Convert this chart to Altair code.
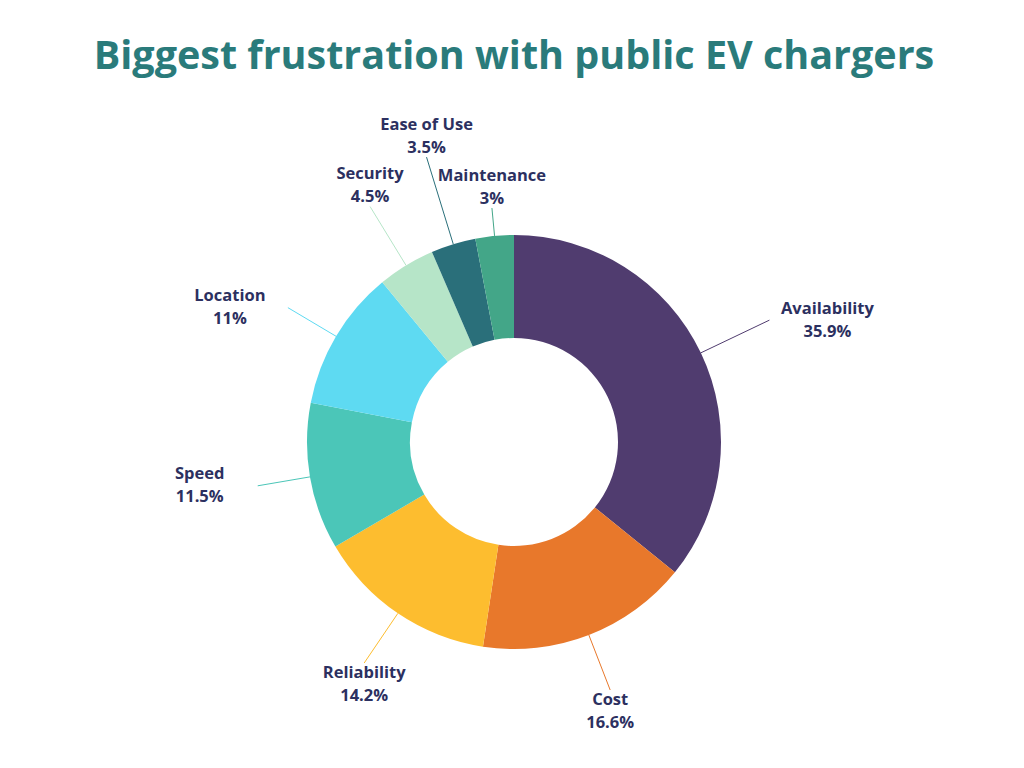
import altair as alt
import pandas as pd

# ---- data ----
categories = ["Availability", "Cost", "Reliability", "Speed", "Location",
              "Security", "Ease of Use", "Maintenance"]
values = [35.9, 16.6, 14.2, 11.5, 11.0, 4.5, 3.5, 3.0]
colors = ["#503c6f", "#e8782b", "#fdbd2f", "#4bc6b8", "#5edaf2",
          "#b6e5c8", "#2a6f7a", "#43a688"]
# leader-line length (label layout) per slice, px from centre
leader_len = [283, 266, 267, 260, 263, 276, 298, 235]

df = pd.DataFrame({
    "category": categories,
    "value": values,
    "order": list(range(len(categories))),
    "llen": leader_len,
    "lab": [f"{c}\n{v:g}%" for c, v in zip(categories, values)],
})

W, H = 1004, 636
CX, CY = W / 2, H / 2
R_OUT, R_IN = 207, 104
SIDE_DX, TB_DY = 58, 21
LINE_H = 23

color_scale = alt.Scale(domain=categories, range=colors)

base = alt.Chart(df)

arcs = base.mark_arc(outerRadius=R_OUT, innerRadius=R_IN).encode(
    theta=alt.Theta("value:Q", stack=True),
    color=alt.Color("category:N", scale=color_scale, legend=None),
    order=alt.Order("order:Q"),
)

geo = base.transform_joinaggregate(
    total="sum(value)"
).transform_window(
    cum="sum(value)", sort=[alt.SortField("order")], frame=[None, 0]
).transform_calculate(
    mid="(datum.cum - datum.value/2) / datum.total * 2 * PI"
).transform_calculate(
    sx="sin(datum.mid)", cy="cos(datum.mid)"
).transform_calculate(
    x1=f"{CX} + {R_OUT} * datum.sx",
    y1=f"{CY} - {R_OUT} * datum.cy",
    x2=f"{CX} + datum.llen * datum.sx",
    y2=f"{CY} - datum.llen * datum.cy",
    side="abs(datum.sx) > 0.8",
).transform_calculate(
    lx=f"datum.side ? datum.x2 + (datum.sx > 0 ? {SIDE_DX} : -{SIDE_DX}) : datum.x2",
    ly=f"datum.side ? datum.y2 : (datum.cy > 0 ? datum.y2 - {TB_DY} : datum.y2 + {TB_DY})",
)

lines = geo.mark_rule(strokeWidth=1).encode(
    x=alt.X("x1:Q", scale=None, axis=None),
    y=alt.Y("y1:Q", scale=None, axis=None),
    x2="x2:Q",
    y2="y2:Q",
    color=alt.Color("category:N", scale=color_scale, legend=None),
)

labels = geo.mark_text(
    lineBreak="\n", font="Open Sans", fontSize=16.5, fontWeight="bold",
    color="#2c3060", align="center", baseline="middle", lineHeight=LINE_H,
    dy=-LINE_H / 2,
).encode(
    x=alt.X("lx:Q", scale=None, axis=None),
    y=alt.Y("ly:Q", scale=None, axis=None),
    text="lab:N",
)

chart = alt.layer(arcs, lines, labels).properties(
    width=W,
    height=H,
    padding={"left": 4, "top": 116, "right": 0, "bottom": 0},
    autosize=alt.AutoSizeParams(type="none"),
    title=alt.TitleParams(
        "Biggest frustration with public EV chargers",
        font="Open Sans", fontSize=39.5, fontWeight="bold", color="#2a7b7b",
        anchor="middle", frame="group", baseline="alphabetic", offset=8,
    ),
).configure_view(stroke=None)

chart.save("out.html", embed_options={"renderer": "svg", "actions": False})
